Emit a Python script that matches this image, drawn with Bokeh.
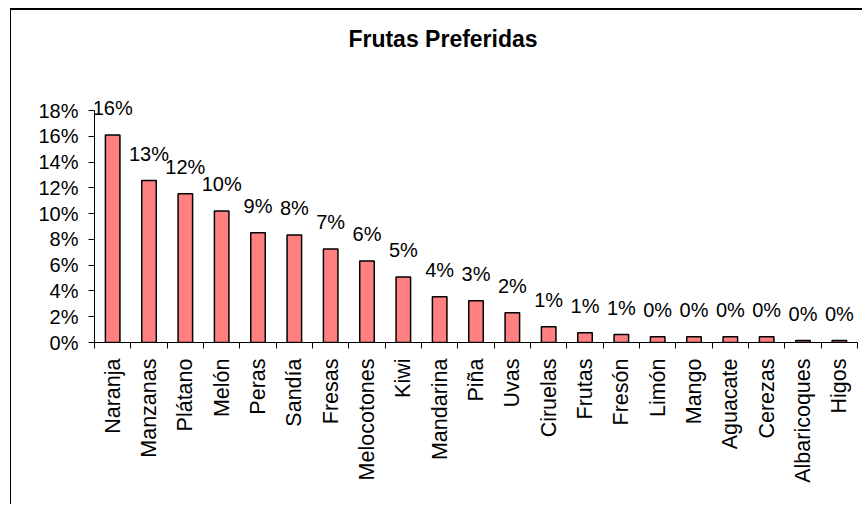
from math import pi
from bokeh.plotting import figure
from bokeh.models import (ColumnDataSource, Range1d, FixedTicker, NumeralTickFormatter,
                          LabelSet, Label)
from bokeh.core.properties import value
from bokeh.embed import file_html
from bokeh.resources import INLINE

# ---- data ----
frutas = ["Naranja", "Manzanas", "Plátano", "Melón", "Peras", "Sandía", "Fresas",
          "Melocotones", "Kiwi", "Mandarina", "Piña", "Uvas", "Ciruelas", "Frutas",
          "Fresón", "Limón", "Mango", "Aguacate", "Cerezas", "Albaricoques", "Higos"]
porcentaje = [0.161, 0.1256, 0.1155, 0.102, 0.0852, 0.0835, 0.0726,
              0.0633, 0.0509, 0.0354, 0.0323, 0.023, 0.0122, 0.0075,
              0.0062, 0.0044, 0.0044, 0.0044, 0.0044, 0.0015, 0.0015]
etiquetas = ["16%", "13%", "12%", "10%", "9%", "8%", "7%", "6%", "5%", "4%", "3%",
             "2%", "1%", "1%", "1%", "0%", "0%", "0%", "0%", "0%", "0%"]
y_ticks = [0, 0.02, 0.04, 0.06, 0.08, 0.10, 0.12, 0.14, 0.16, 0.18]
titulo = "Frutas Preferidas"

n = len(frutas)
centers = [i + 0.5 for i in range(n)]
source = ColumnDataSource(dict(x=centers, top=porcentaje, label=etiquetas))

FONT = "Liberation Sans"

# frame: 332 px tall, axis (0..18%) occupies the lower 232 px
Y_MAX = y_ticks[-1]
y_end = Y_MAX * 332 / 232

p = figure(width=852, height=496, output_backend="svg", toolbar_location=None,
           x_range=Range1d(0, n), y_range=Range1d(0, y_end),
           min_border_left=83, min_border_right=6, min_border_bottom=164,
           min_border_top=0)
p.margin = (8, 0, 0, 10)
p.styles = {"border-top": "2px solid #000", "border-left": "1px solid #000"}

p.outline_line_color = None
p.xgrid.visible = False
p.ygrid.visible = False
p.background_fill_color = "white"
p.border_fill_color = "white"

p.vbar(x="x", top="top", width=0.4, source=source, fill_color="#FF8080",
       line_color="#000000", line_width=1.5)

labels = LabelSet(x="x", y="top", text="label", source=source, text_align="center",
                  text_baseline="alphabetic", y_offset=20, text_font=value(FONT),
                  text_font_size="20px", text_color="#000000")
p.add_layout(labels)

# chart title, centred on the whole chart area (not on the plot frame)
title_label = Label(x=n / 2, y=Y_MAX, text=titulo, text_align="center",
                    text_baseline="middle", x_offset=-33, y_offset=72, text_font=FONT,
                    text_font_size="23px", text_font_style="bold",
                    text_color="#000000")
p.add_layout(title_label)

# x axis
xa = p.xaxis[0]
xa.ticker = FixedTicker(ticks=centers, minor_ticks=list(range(n + 1)))
xa.major_label_overrides = {c: f for c, f in zip(centers, frutas)}
xa.major_label_orientation = pi / 2
xa.major_tick_out = 0
xa.major_tick_in = 0
xa.minor_tick_out = 6
xa.minor_tick_in = 0
xa.minor_tick_line_color = "#000000"
xa.axis_line_color = "#000000"
xa.major_label_text_font = FONT
xa.major_label_text_font_size = "21.5px"
xa.major_label_text_color = "#000000"
xa.major_label_standoff = 10

# y axis
ya = p.yaxis[0]
ya.ticker = FixedTicker(ticks=y_ticks)
ya.bounds = (0, Y_MAX)
ya.formatter = NumeralTickFormatter(format="0%")
ya.major_tick_out = 6
ya.major_tick_in = 0
ya.minor_tick_out = 0
ya.minor_tick_in = 0
ya.axis_line_color = "#000000"
ya.major_tick_line_color = "#000000"
ya.major_label_text_font = FONT
ya.major_label_text_font_size = "20px"
ya.major_label_text_color = "#000000"
ya.major_label_standoff = 10

open("out.html", "w").write(file_html(p, INLINE))
